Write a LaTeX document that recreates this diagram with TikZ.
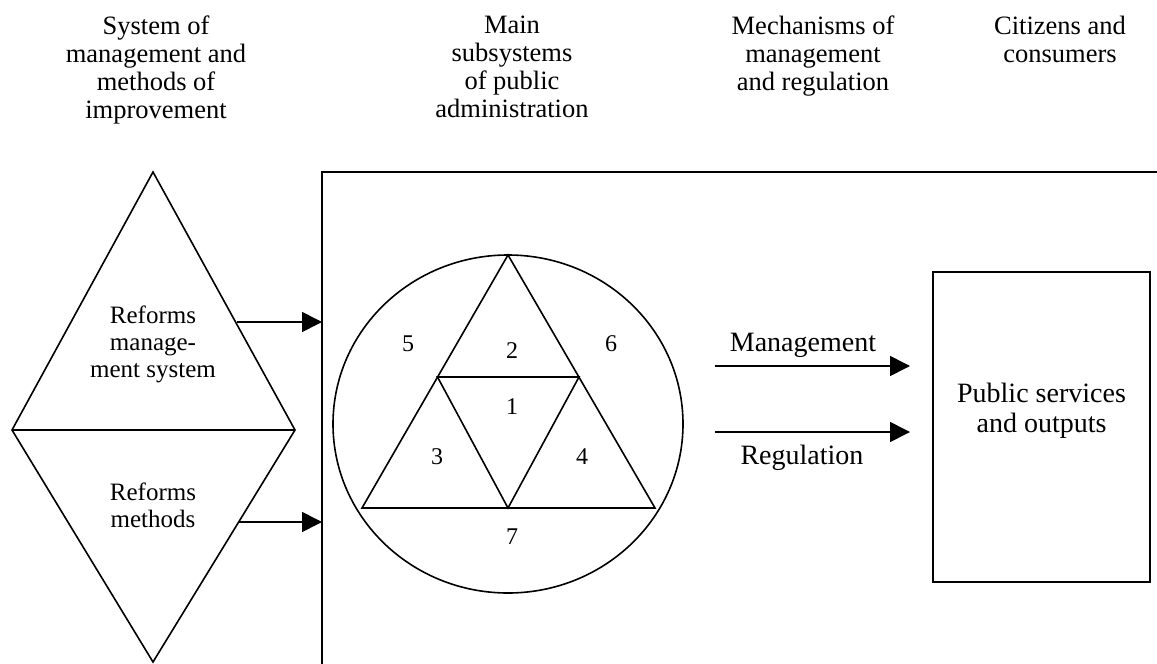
\documentclass[tikz,border=0pt]{standalone}
\usepackage{fontspec}
\setmainfont{Liberation Serif}
\usetikzlibrary{arrows.meta}
\begin{document}
\begin{tikzpicture}[x=1pt,y=-1pt,
  line width=1.6pt, line join=miter,
  every node/.style={inner sep=0pt, outer sep=0pt},
  header/.style={anchor=north, align=center, font=\fontsize{26.5}{28}\selectfont},
  inlabel/.style={anchor=north, align=center, font=\fontsize{25}{27}\selectfont},
  num/.style={font=\fontsize{24}{26}\selectfont},
  flowlabel/.style={anchor=base, font=\fontsize{28}{30}\selectfont},
  arr/.style={-{Triangle[length=20pt,width=20pt]}}]
\useasboundingbox (0,0) rectangle (1157,664);

% column headings
\node[header] (hsys) at (156,16) {System of\\management and\\methods of\\improvement};
\node[header] (hmain) at (512,16) {Main\\subsystems\\of public\\administration};
\node[header] (hmech) at (813,16) {Mechanisms of\\management\\and regulation};
\node[header] (hcit) at (1060,16) {Citizens and\\consumers};

% reform diamond, split into two triangles
\coordinate (dtop) at (153,172);
\coordinate (dleft) at (12,430);
\coordinate (dright) at (295,430);
\coordinate (dbot) at (153,662);
\draw (dtop) -- (dright) -- (dbot) -- (dleft) -- cycle;
\draw (dleft) -- (dright);
\node[inlabel] (rms) at (153,306) {Reforms\\manage-\\ment system};
\node[inlabel] (rm) at (153,483) {Reforms\\methods};

% public administration frame (open to the right and below)
\coordinate (ftl) at (322,172);
\coordinate (ftr) at (1157,172);
\coordinate (fbl) at (322,664);
\draw (fbl) -- (ftl) -- (ftr);

% arrows from the reforms into the frame
\coordinate (a1s) at (237,322);
\coordinate (a1e) at (322,322);
\coordinate (a2s) at (239,522);
\coordinate (a2e) at (322,522);
\draw[arr] (a1s) -- (a1e);
\draw[arr] (a2s) -- (a2e);

% subsystems: circle with the nested triangles
\coordinate (cc) at (508,424);
\draw (cc) ellipse [x radius=175pt, y radius=169pt];
\coordinate (tA) at (508,255);
\coordinate (tL) at (362,508);
\coordinate (tR) at (655,508);
\coordinate (mL) at (437.5,377);
\coordinate (mR) at (579,377);
\coordinate (mB) at (508,508);
\draw (tA) -- (tR) -- (tL) -- cycle;
\draw (mL) -- (mR) -- (mB) -- cycle;

\node[num] (n5) at (408,344) {5};
\node[num] (n2) at (512,351) {2};
\node[num] (n6) at (611,344) {6};
\node[num] (n1) at (512,407) {1};
\node[num] (n3) at (437,457) {3};
\node[num] (n4) at (582,457) {4};
\node[num] (n7) at (512,537) {7};

% management and regulation flows
\coordinate (m1s) at (715,366);
\coordinate (m1e) at (910,366);
\coordinate (m2s) at (715,432);
\coordinate (m2e) at (910,432);
\draw[arr] (m1s) -- (m1e);
\draw[arr] (m2s) -- (m2e);
\node[flowlabel] (lman) at (803,351) {Management};
\node[flowlabel] (lreg) at (802,464) {Regulation};

% outputs box
\draw (933,272) rectangle (1150,582);
\node[anchor=north, align=center, font=\fontsize{28}{30}\selectfont] (pso) at (1041.5,383) {Public services\\and outputs};
\end{tikzpicture}
\end{document}
